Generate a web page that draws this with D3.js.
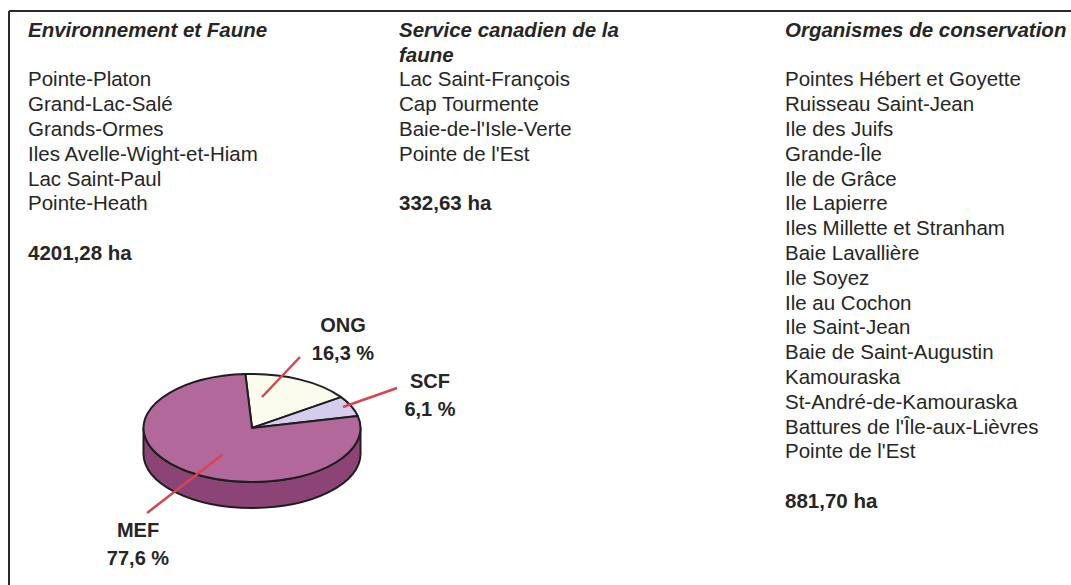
<!DOCTYPE html>
<html>
<head>
<meta charset="utf-8">
<script src="https://cdn.jsdelivr.net/npm/d3@7"></script>
<style>
  html, body { margin: 0; padding: 0; background: #fff; }
  svg { display: block; }
  text { font-family: "Liberation Sans", Arial, sans-serif; fill: #262626; }
</style>
</head>
<body>
<svg id="chart" width="1071" height="585"></svg>
<script>
'use strict';

// Column contents
const mefTitle = ['Environnement et Faune'];
const mefSites = ['Pointe-Platon', 'Grand-Lac-Salé', 'Grands-Ormes', 'Iles Avelle-Wight-et-Hiam', 'Lac Saint-Paul', 'Pointe-Heath'];
const mefArea = '4201,28 ha';

const scfTitle = ['Service canadien de la', 'faune'];
const scfSites = ['Lac Saint-François', 'Cap Tourmente', "Baie-de-l'Isle-Verte", "Pointe de l'Est"];
const scfArea = '332,63 ha';

const ongTitle = ['Organismes de conservation'];
const ongSites = ['Pointes Hébert et Goyette', 'Ruisseau Saint-Jean', 'Ile des Juifs', 'Grande-Île', 'Ile de Grâce',
  'Ile Lapierre', 'Iles Millette et Stranham', 'Baie Lavallière', 'Ile Soyez', 'Ile au Cochon', 'Ile Saint-Jean',
  'Baie de Saint-Augustin', 'Kamouraska', 'St-André-de-Kamouraska', "Battures de l'Île-aux-Lièvres", "Pointe de l'Est"];
const ongArea = '881,70 ha';

// Pie data (clockwise order from the top)
const pieCategories = ['ONG', 'SCF', 'MEF'];
const pieValues = [16.3, 6.1, 77.6];
const pieLabels = ['16,3 %', '6,1 %', '77,6 %'];

const svg = d3.select('#chart');

// Frame (top and left rules)
svg.append('line').attr('x1', 9).attr('x2', 1071).attr('y1', 11).attr('y2', 11)
   .attr('stroke', '#2a2a2a').attr('stroke-width', 2);
svg.append('line').attr('x1', 9).attr('x2', 9).attr('y1', 11).attr('y2', 585)
   .attr('stroke', '#2a2a2a').attr('stroke-width', 2);

// -----------------------------------------------------
// Text columns

const lineHeight = 24.8;
const firstBaseline = 36.7;

function drawColumn(x, title, sites, area) {
    const g = svg.append('g').attr('transform', `translate(${x}, 0)`);
    const rows = [];
    title.forEach(t => rows.push({ text: t, kind: 'title' }));
    if (title.length < 2) rows.push({ text: '', kind: 'blank' });
    sites.forEach(s => rows.push({ text: s, kind: 'site' }));
    rows.push({ text: '', kind: 'blank' });
    rows.push({ text: area, kind: 'area' });

    g.selectAll('text')
     .data(rows.filter(r => r.kind !== 'blank' || true))
     .enter()
     .append('text')
       .attr('x', 0)
       .attr('y', (d, i) => firstBaseline + i * lineHeight)
       .attr('font-size', 20.5)
       .attr('font-weight', d => d.kind === 'site' ? 'normal' : 'bold')
       .attr('font-style', d => d.kind === 'title' ? 'italic' : 'normal')
       .text(d => d.text);
}

drawColumn(28, mefTitle, mefSites, mefArea);
drawColumn(399, scfTitle, scfSites, scfArea);
drawColumn(785, ongTitle, ongSites, ongArea);

// -----------------------------------------------------
// 3D pie

const cx = 252, cy = 428, rx = 108.5, ry = 54, depth = 26;
const startOffset = -3.5 * Math.PI / 180;

const colors = { ONG: '#fbfbee', SCF: '#d5cdee', MEF: '#b2689b' };
const sideColors = { ONG: '#c8c8b8', SCF: '#a69cc8', MEF: '#8c4477' };

const pie = d3.pie().sort(null)
    .startAngle(startOffset)
    .endAngle(startOffset + 2 * Math.PI);

const slices = pie(pieValues).map((d, i) => ({ ...d, key: pieCategories[i], label: pieLabels[i] }));

// Angle measured clockwise from the top, projected onto the ellipse
const pt = (a, dy = 0) => [cx + rx * Math.sin(a), cy - ry * Math.cos(a) + dy];

// Visible side walls (front half: angles between PI/2 and 3PI/2)
const wall = svg.append('g');
slices.forEach(s => {
    const a0 = Math.max(s.startAngle, Math.PI / 2);
    const a1 = Math.min(s.endAngle, 3 * Math.PI / 2);
    if (a1 <= a0) return;
    const p0 = pt(a0), p1 = pt(a1), q1 = pt(a1, depth), q0 = pt(a0, depth);
    const large = (a1 - a0) > Math.PI ? 1 : 0;
    wall.append('path')
        .attr('d', `M${p0}A${rx},${ry} 0 ${large} 1 ${p1}L${q1}A${rx},${ry} 0 ${large} 0 ${q0}Z`)
        .attr('fill', sideColors[s.key])
        .attr('stroke', '#1e1e1e')
        .attr('stroke-width', 2)
        .attr('stroke-linejoin', 'round');
});

// Top faces
svg.append('g').selectAll('path')
   .data(slices)
   .enter()
   .append('path')
     .attr('d', s => {
         const p0 = pt(s.startAngle), p1 = pt(s.endAngle);
         const large = (s.endAngle - s.startAngle) > Math.PI ? 1 : 0;
         return `M${cx},${cy}L${p0}A${rx},${ry} 0 ${large} 1 ${p1}Z`;
     })
     .attr('fill', s => colors[s.key])
     .attr('stroke', '#1e1e1e')
     .attr('stroke-width', 2)
     .attr('stroke-linejoin', 'round');

// Leader lines and labels (offsets from the pie centre)
const labelLayout = {
    ONG: { inner: [10, -31], outer: [48, -71], text: [91, -96] },
    SCF: { inner: [91, -21], outer: [145, -40], text: [178, -40] },
    MEF: { inner: [-30, 27], outer: [-105, 85], text: [-114, 109] }
};

const labels = svg.append('g');
slices.forEach(s => {
    const L = labelLayout[s.key];
    labels.append('line')
        .attr('x1', cx + L.inner[0]).attr('y1', cy + L.inner[1])
        .attr('x2', cx + L.outer[0]).attr('y2', cy + L.outer[1])
        .attr('stroke', '#d8444f')
        .attr('stroke-width', 2.5);
    const t = labels.append('text')
        .attr('x', cx + L.text[0])
        .attr('y', cy + L.text[1])
        .attr('text-anchor', 'middle')
        .attr('font-size', 20)
        .attr('font-weight', 'bold')
        .attr('fill', '#303030');
    t.append('tspan').attr('x', cx + L.text[0]).text(s.key);
    t.append('tspan').attr('x', cx + L.text[0]).attr('dy', 28).text(s.label);
});
</script>
</body>
</html>
